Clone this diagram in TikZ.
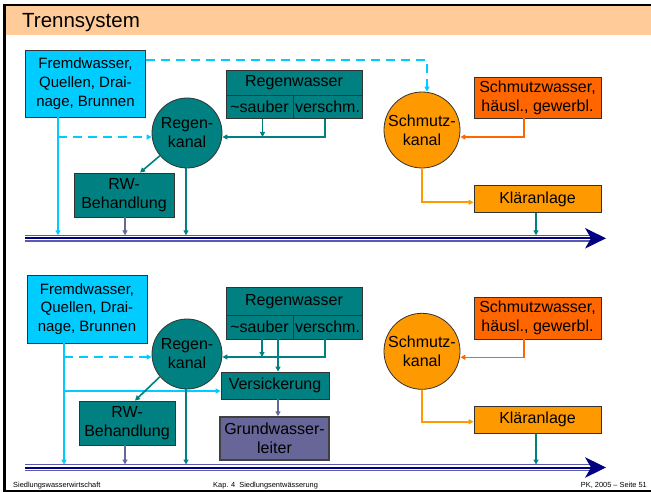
\documentclass[tikz,border=0pt]{standalone}
\usepackage{fontspec}
\setmainfont{Liberation Sans}
\usetikzlibrary{arrows.meta}
\definecolor{cyanF}{HTML}{00CCFF}
\definecolor{tealR}{HTML}{008080}
\definecolor{purp}{HTML}{666699}
\definecolor{orS}{HTML}{FF9900}
\definecolor{orW}{HTML}{FF6600}
\definecolor{navyR}{HTML}{000080}
\definecolor{riverlt}{HTML}{5A5AAA}
\definecolor{titlebg}{HTML}{FFCC99}
\tikzset{
  box/.style={draw=black!80, line width=0.8pt, inner sep=0pt, align=center, font=\fontsize{16}{19}\selectfont},
  fwbox/.style={box, fill=cyanF, font=\fontsize{15}{18.7}\selectfont},
  kreis/.style={circle, draw=black!80, line width=0.8pt, inner sep=0pt, align=center, font=\fontsize{16}{19}\selectfont},
  conn/.style={line width=1.6pt, -{Triangle[length=5pt,width=5pt]}},
  dashconn/.style={conn, dash pattern=on 9pt off 6pt},
  foot/.style={font=\fontsize{7.4}{9}\selectfont, inner sep=0pt}
}
\newcommand{\river}[1]{%
  \draw[line width=6.7pt, riverlt] (25,#1) -- (592,#1);
  \draw[line width=4.1pt, white] (25,#1) -- (592,#1);
  \draw[line width=2pt, navyR] (25,#1) -- (592,#1);
  \fill[navyR] (606,#1) -- (585,#1-10.3) -- (591,#1) -- (585,#1+10.3) -- cycle;
}
\begin{document}
\begin{tikzpicture}[x=1pt,y=-1pt]
\useasboundingbox (0,0) rectangle (651,492);
\fill[white] (0,0) rectangle (651,492);
% frame and title
\fill[titlebg] (6,6) rectangle (651,35);
\draw[line width=2.6pt] (4.7,4) -- (4.7,491.5);
\draw[line width=2pt] (3.4,5) -- (651,5);
\draw[line width=1.4pt] (3.4,490.8) -- (651,490.8);
\node[anchor=base west, inner sep=0pt, font=\fontsize{20.5}{22}\selectfont] (title) at (22,27.5) {Trennsystem};

% ================= panel 1 =================
\river{238.3}
\coordinate (rv1) at (0,235.3);
\node[fwbox, minimum width=120pt, minimum height=67pt] (fw1) at (85.5,83.5) {Fremdwasser,\\Quellen, Drai-\\nage, Brunnen};
\node[box, fill=tealR, minimum width=136pt, minimum height=24.3pt] (rwh1) at (294,82.9) {Regenwasser};
\node[box, fill=tealR, minimum width=67pt, minimum height=23.3pt] (rws1) at (259.5,106.7) {\textasciitilde sauber};
\node[box, fill=tealR, minimum width=69pt, minimum height=23.3pt] (rwv1) at (327.5,106.7) {verschm.};
\node[kreis, fill=tealR, minimum size=70pt] (rk1) at (187,133) {Regen-\\kanal};
\node[box, fill=tealR, minimum width=100pt, minimum height=44pt] (rwb1) at (124,195) {RW-\\Behandlung};
\node[kreis, fill=orS, minimum size=76pt] (sk1) at (422,130) {Schmutz-\\kanal};
\node[box, fill=orW, minimum width=127pt, minimum height=41pt] (sw1) at (537.5,97.5) {Schmutzwasser,\\häusl., gewerbl.};
\node[box, fill=orS, minimum width=127pt, minimum height=27pt] (kl1) at (537.5,199.3) {Kläranlage};

\draw[dashconn, cyanF] (fw1.east |- 0,60) -- (427,60) -- (427,0 |- sk1.north);
\draw[conn, cyanF] (58,0 |- fw1.south) -- (58,0 |- rv1);
\draw[dashconn, cyanF] (58,137) -- (rk1.west |- 0,137);
\draw[conn, tealR] (262.5,0 |- rws1.south) -- (262.5,137);
\draw[conn, tealR] (325,0 |- rwv1.south) -- (325,137) -- (rk1.east |- 0,137);
\draw[conn, tealR] (rk1.220) -- (140,0 |- rwb1.north);
\draw[conn, purp] (125,0 |- rwb1.south) -- (125,0 |- rv1);
\draw[conn, tealR] (186,0 |- rk1.south) -- (186,0 |- rv1);
\draw[conn, orW] (524,0 |- sw1.south) -- (524,137) -- (sk1.east |- 0,137);
\draw[conn, orS] (422,0 |- sk1.south) -- (422,202.3) -- (kl1.west |- 0,202.3);
\draw[conn, tealR] (536,0 |- kl1.south) -- (536,0 |- rv1);

% ================= panel 2 =================
\river{467.5}
\coordinate (rv2) at (0,464.5);
\node[fwbox, minimum width=120pt, minimum height=68pt] (fw2) at (87,309) {Fremdwasser,\\Quellen, Drai-\\nage, Brunnen};
\node[box, fill=tealR, minimum width=136pt, minimum height=28pt] (rwh2) at (294,301.4) {Regenwasser};
\node[box, fill=tealR, minimum width=67pt, minimum height=23.5pt] (rws2) at (259.5,327.2) {\textasciitilde sauber};
\node[box, fill=tealR, minimum width=69pt, minimum height=23.5pt] (rwv2) at (327.5,327.2) {verschm.};
\node[kreis, fill=tealR, minimum size=70pt] (rk2) at (187,354) {Regen-\\kanal};
\node[box, fill=tealR, minimum width=108pt, minimum height=27pt] (vs2) at (275,385.5) {Versickerung};
\node[box, fill=purp, draw=black!75, line width=1.5pt, minimum width=109pt, minimum height=43pt] (gw2) at (274.5,438.5) {Grundwasser-\\leiter};
\node[box, fill=tealR, minimum width=96pt, minimum height=44pt] (rwb2) at (127,423) {RW-\\Behandlung};
\node[kreis, fill=orS, minimum size=76pt] (sk2) at (422,351.3) {Schmutz-\\kanal};
\node[box, fill=orW, minimum width=127pt, minimum height=42pt] (sw2) at (537.5,318) {Schmutzwasser,\\häusl., gewerbl.};
\node[box, fill=orS, minimum width=127pt, minimum height=27pt] (kl2) at (537.5,419.7) {Kläranlage};

\draw[conn, cyanF] (64,0 |- fw2.south) -- (64,0 |- rv2);
\draw[dashconn, cyanF] (64,357) -- (rk2.west |- 0,357);
\draw[conn, cyanF] (64,391) -- (vs2.west |- 0,391);
\draw[conn, tealR] (262,0 |- rws2.south) -- (262,357);
\draw[conn, tealR] (278,0 |- rws2.south) -- (278,0 |- vs2.north);
\draw[conn, tealR] (325,0 |- rwv2.south) -- (325,357) -- (rk2.east |- 0,357);
\draw[conn, tealR] (rk2.220) -- (135,0 |- rwb2.north);
\draw[conn, purp] (125,0 |- rwb2.south) -- (125,0 |- rv2);
\draw[conn, tealR] (186,0 |- rk2.south) -- (186,0 |- rv2);
\draw[conn, purp] (278,0 |- vs2.south) -- (278,0 |- gw2.north);
\draw[conn, orW] (524,0 |- sw2.south) -- (524,357.3) -- (sk2.east |- 0,357.3);
\draw[conn, orS] (422,0 |- sk2.south) -- (422,421.7) -- (kl2.west |- 0,421.7);
\draw[conn, tealR] (536,0 |- kl2.south) -- (536,0 |- rv2);

% footer
\node[foot, anchor=base west] (f1) at (13,487.5) {Siedlungswasserwirtschaft};
\node[foot, anchor=base west] (f2) at (213,487.5) {Kap. 4\ \ Siedlungsentwässerung};
\node[foot, anchor=base east] (f3) at (647,487.5) {PK, 2005 – Seite 51};
\end{tikzpicture}
\end{document}
